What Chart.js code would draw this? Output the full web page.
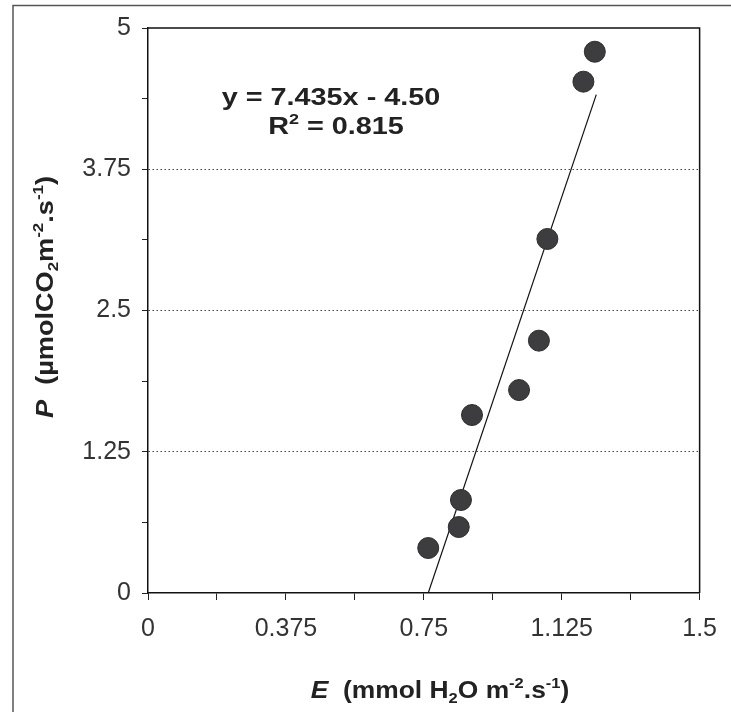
<!DOCTYPE html>
<html><head><meta charset="utf-8">
<script src="https://cdn.jsdelivr.net/npm/chart.js@4.4.0/dist/chart.umd.min.js"></script>
<style>html,body{margin:0;padding:0;background:#fff;}#wrap{width:731px;height:712px;position:relative;}canvas{display:block;}</style>
</head><body><div id="wrap"><canvas id="c" width="731" height="712"></canvas></div>
<script>
// E (transpiration) vs P (photosynthesis) observations
const transpiration = [0.762, 0.845, 0.851, 0.881, 1.009, 1.063, 1.086, 1.184, 1.215];
const photosynthesis = [0.398, 0.584, 0.823, 1.575, 1.796, 2.233, 3.133, 4.525, 4.790];
// trend line end points as drawn
const trendX = [0.762, 1.219];
const trendY = [0, 4.41];
const xTickLabels = ['0', '0.375', '0.75', '1.125', '1.5'];
const yTickLabels = ['0', '1.25', '2.5', '3.75', '5'];
const yGridValues = [1.25, 2.5, 3.75];
const equationLine = [{t: 'y = 7.435x - 4.50'}];
const r2Line = [{t: 'R'}, {t: '2', sup: true}, {t: ' = 0.815'}];
const xTitle = [{t: 'E', it: true}, {t: '  (mmol H'}, {t: '2', sub: true}, {t: 'O m'}, {t: '-2', sup: true}, {t: '.s'}, {t: '-1', sup: true}, {t: ')'}];
const yTitle = [{t: 'P', it: true}, {t: '  (\u00b5molCO'}, {t: '2', sub: true}, {t: 'm'}, {t: '-2', sup: true}, {t: '.s'}, {t: '-1', sup: true}, {t: ')'}];

const FAMILY = "'Liberation Sans', Arial, sans-serif";

function runFont(r, size) {
  const s = (r.sub || r.sup) ? Math.round(size * 0.62) : size;
  return (r.it ? 'italic ' : '') + 'bold ' + s + 'px ' + FAMILY;
}
function drawRuns(ctx, runs, cx, baseY, size, rot, stretch) {
  ctx.save();
  ctx.translate(cx, baseY);
  if (rot) ctx.rotate(rot);
  ctx.scale(stretch || 1, 1);
  let total = 0;
  runs.forEach(r => { ctx.font = runFont(r, size); r.w = ctx.measureText(r.t).width; total += r.w; });
  let x = -total / 2;
  ctx.fillStyle = '#222';
  ctx.textBaseline = 'alphabetic';
  ctx.textAlign = 'left';
  runs.forEach(r => {
    ctx.font = runFont(r, size);
    let dy = 0;
    if (r.sub) dy = size * 0.22;
    if (r.sup) dy = -size * 0.42;
    ctx.fillText(r.t, x, dy);
    x += r.w;
  });
  ctx.restore();
}

const decor = {
  id: 'decor',
  beforeDraw(chart) {
    const ctx = chart.ctx;
    ctx.save();
    ctx.fillStyle = '#fff';
    ctx.fillRect(0, 0, chart.width, chart.height);
    ctx.strokeStyle = '#555';
    ctx.lineWidth = 1.5;
    ctx.beginPath();
    ctx.moveTo(13, 712); ctx.lineTo(13, 5.5); ctx.lineTo(731, 5.5);
    ctx.stroke();
    ctx.restore();
  },
  afterDraw(chart) {
    const ctx = chart.ctx;
    const a = chart.chartArea;
    ctx.save();
    ctx.strokeStyle = '#111';
    ctx.lineWidth = 1.5;
    ctx.beginPath();
    ctx.moveTo(a.left, a.top); ctx.lineTo(a.right, a.top); ctx.lineTo(a.right, a.bottom);
    ctx.stroke();
    ctx.restore();
    drawRuns(ctx, equationLine, 331, 105, 24, 0, 1.2);
    drawRuns(ctx, r2Line, 336, 134, 24, 0, 1.2);
    drawRuns(ctx, xTitle, 440, 698, 24, 0, 1.1);
    drawRuns(ctx, yTitle, 53, 297, 24, -Math.PI / 2, 1.13);
  }
};

function near(v, step) { const k = v / step; return Math.abs(k - Math.round(k)) < 1e-6 ? Math.round(k) : -1; }

new Chart(document.getElementById('c'), {
  type: 'scatter',
  data: {
    datasets: [
      {
        label: 'P',
        data: transpiration.map((x, i) => ({x: x, y: photosynthesis[i]})),
        backgroundColor: '#3d3d40',
        borderColor: '#2e2e30',
        borderWidth: 1,
        pointRadius: 10.5,
        order: 1
      },
      {
        label: 'trend',
        type: 'line',
        data: trendX.map((x, i) => ({x: x, y: trendY[i]})),
        borderColor: '#111',
        borderWidth: 1.2,
        pointRadius: 0,
        fill: false,
        order: 2
      }
    ]
  },
  options: {
    responsive: false,
    animation: false,
    events: [],
    layout: {padding: {left: 0, top: 28, right: 27, bottom: 0}},
    plugins: {legend: {display: false}, tooltip: {enabled: false}},
    scales: {
      x: {
        type: 'linear', min: 0, max: 1.5,
        afterFit(s) { s.height = 119; },
        ticks: {
          stepSize: 0.1875, autoSkip: false, maxRotation: 0, padding: 14,
          color: '#333', font: {family: FAMILY, size: 25},
          callback(v) { const k = near(v, 0.375); return k >= 0 ? xTickLabels[k] : ''; }
        },
        grid: {drawOnChartArea: false, drawTicks: true, tickLength: 7, tickColor: '#222', tickWidth: 1},
        border: {display: true, color: '#111', width: 1.5}
      },
      y: {
        type: 'linear', min: 0, max: 5,
        afterFit(s) { s.width = 148; },
        ticks: {
          stepSize: 0.625, autoSkip: false, padding: 11,
          color: '#333', font: {family: FAMILY, size: 25},
          callback(v) { const k = near(v, 1.25); return k >= 0 ? yTickLabels[k] : ''; }
        },
        grid: {
          drawOnChartArea: true, drawTicks: true, tickLength: 6, tickColor: '#222', tickWidth: 1,
          lineWidth: 1,
          color(c) { return (c.tick && yGridValues.some(g => Math.abs(g - c.tick.value) < 1e-6)) ? '#444' : 'rgba(0,0,0,0)'; }
        },
        border: {display: true, color: '#111', width: 1.5, dash: [1.5, 2.5]}
      }
    }
  },
  plugins: [decor]
});
</script>
</body></html>
